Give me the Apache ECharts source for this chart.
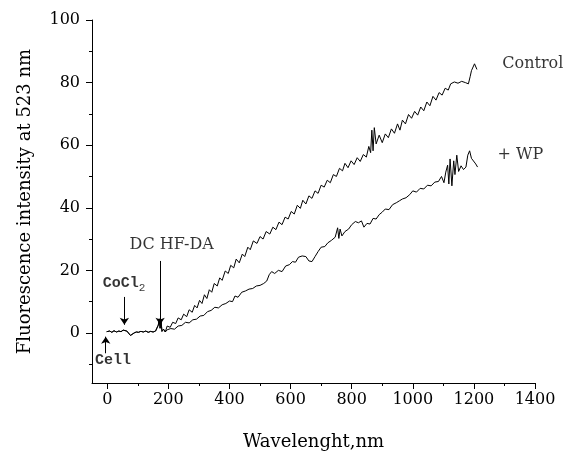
<!DOCTYPE html>
<html lang="en">
<head>
    <meta charset="UTF-8" />
    <title>Fluorescence</title>
    <script src="https://cdn.jsdelivr.net/npm/echarts@6/dist/echarts.min.js"></script>
    <style>
        html, body { margin: 0; padding: 0; background: #fff; }
    </style>
</head>
<body>
    <div style="width: 568px; height: 455px" id="chart"></div>
    <script>
        // 基线 (Cell -> CoCl2 -> DCHF-DA)
        const baseX = [-2, 0, 8, 15, 22, 30, 38, 45, 52, 58, 64, 70, 76, 82, 88, 95, 102, 110, 118, 126, 134, 142, 150, 158, 163, 167, 170, 173, 176, 179, 184, 190];
        const baseY = [0.4, 0.3, 0.6, 0.2, 0.7, 0.3, 0.6, 0.4, 0.9, 1.2, 0.6, 0.3, -0.8, -1.2, 0, 0.3, 0.2, 0.5, 0.3, 0.6, 0.2, 0.5, 0.3, 0.6, 0.2, 2.5, 4.5, 1.5, 3.8, 0.5, 1.2, 0.3];

        // Control
        const controlX = [196, 206, 214, 224, 232, 242, 250, 260, 268, 278, 286, 294, 302, 310, 318, 326, 334, 342, 350, 360, 368, 376, 386, 396, 404, 414, 422, 432, 442, 450, 460, 468, 478, 490, 500, 510, 520, 532, 542, 552, 562, 572, 582, 592, 602, 612, 622, 632, 640, 650, 660, 670, 680, 690, 700, 710, 720, 730, 740, 750, 760, 770, 778, 788, 798, 808, 818, 828, 838, 848, 856, 862, 866, 870, 874, 880, 890, 900, 910, 920, 930, 940, 950, 958, 966, 976, 986, 996, 1006, 1016, 1026, 1036, 1046, 1056, 1066, 1076, 1086, 1096, 1106, 1116, 1124, 1136, 1148, 1160, 1172, 1182, 1188, 1192, 1198, 1202, 1206, 1210];
        const controlY = [2.2, 1.8, 3.4, 3.0, 4.8, 4.2, 6.0, 5.2, 7.4, 6.6, 8.8, 8.0, 10.4, 9.4, 12.2, 11.0, 13.8, 13.0, 15.8, 15.0, 17.6, 16.8, 19.8, 19.0, 21.6, 20.8, 23.6, 22.4, 25.2, 24.4, 27.4, 26.6, 29.4, 28.6, 30.8, 30.0, 32.4, 31.6, 33.8, 33.0, 35.4, 34.6, 37.0, 36.4, 38.8, 38.0, 40.8, 39.8, 42.4, 41.2, 43.8, 43.0, 45.4, 44.6, 47.2, 46.6, 48.8, 48.0, 50.6, 50.0, 52.6, 51.8, 54.2, 52.8, 55.0, 53.8, 56.0, 54.8, 57.0, 56.2, 59.6, 57.6, 64.8, 58.2, 65.6, 60.4, 63.2, 60.8, 63.6, 62.4, 65.2, 63.8, 66.8, 64.8, 68.0, 66.8, 69.8, 68.6, 70.8, 69.6, 72.2, 71.0, 73.8, 72.6, 75.6, 74.4, 76.8, 76.0, 78.2, 77.6, 79.6, 80.2, 79.8, 80.4, 80.0, 79.6, 82.0, 83.8, 84.4, 86.0, 85.4, 84.2];

        // + WP
        const wpX = [196, 208, 220, 232, 244, 256, 268, 280, 292, 304, 316, 328, 340, 352, 364, 376, 388, 400, 410, 418, 428, 440, 452, 464, 476, 488, 500, 512, 522, 530, 538, 548, 560, 572, 584, 596, 606, 616, 626, 638, 650, 660, 670, 680, 690, 700, 712, 722, 734, 746, 754, 758, 762, 768, 778, 790, 800, 812, 822, 832, 840, 850, 860, 870, 880, 890, 900, 910, 922, 934, 946, 956, 966, 978, 990, 1000, 1012, 1024, 1036, 1048, 1060, 1072, 1084, 1094, 1102, 1108, 1114, 1118, 1122, 1128, 1134, 1138, 1144, 1150, 1158, 1166, 1174, 1180, 1186, 1192, 1198, 1206, 1212];
        const wpY = [1.0, 1.4, 1.2, 2.2, 2.4, 3.4, 3.2, 4.2, 4.4, 5.4, 5.6, 6.8, 7.2, 8.2, 8.0, 9.0, 9.4, 10.2, 10.0, 11.8, 11.4, 13.0, 13.4, 14.0, 14.2, 15.0, 15.2, 15.8, 16.6, 18.6, 19.6, 19.0, 20.0, 19.6, 21.4, 21.8, 22.8, 22.6, 24.2, 24.6, 24.4, 23.0, 22.8, 24.4, 26.0, 27.4, 27.6, 28.8, 29.6, 30.6, 33.6, 30.2, 33.2, 31.0, 32.4, 33.2, 34.6, 35.6, 35.2, 35.8, 33.8, 35.0, 34.8, 36.6, 36.4, 37.8, 38.6, 39.6, 39.4, 41.0, 41.6, 42.2, 42.8, 43.2, 44.2, 45.4, 45.0, 46.2, 46.0, 47.2, 47.0, 48.2, 48.4, 50.0, 48.0, 51.4, 53.6, 47.6, 55.6, 47.0, 55.0, 50.6, 56.8, 51.6, 53.4, 52.2, 53.0, 56.8, 58.2, 55.8, 55.6, 54.0, 53.0];

        // 刻度
        const xTicks = [0, 200, 400, 600, 800, 1000, 1200, 1400];
        const xMinorTicks = [100, 300, 500, 700, 900, 1100, 1300];
        const yTicks = [0, 20, 40, 60, 80, 100];
        const yMinorTicks = [-10, 10, 30, 50, 70, 90];

        // 标注文字
        const noteText = ["Control", "+ WP", "DC HF-DA", "{m|CoCl}{s|2}", "{m|Cell}"];
        const noteX = [1393, 1352, 211, 55, 19];
        const noteY = [86, 57, 28.2, 16, -8.7];

        // 箭头 [x, 起点y, 终点y]
        const arrowX = [-5, 56, 173];
        const arrowFrom = [-6.5, 11.5, 23];
        const arrowTo = [-1.2, 2.6, 2.6];

        const zip = (xs, ys) => xs.map((x, i) => [x, ys[i]]);
        const baseData = zip(baseX, baseY);
        const controlData = baseData.concat(zip(controlX, controlY));
        const wpData = baseData.concat(zip(wpX, wpY));
        const noteData = noteText.map((t, i) => [noteX[i], noteY[i], t]);
        const arrowData = arrowX.map((x, i) => [{ coord: [x, arrowFrom[i]] }, { coord: [x, arrowTo[i]] }]);

        const myChart = echarts.init(document.getElementById("chart"));

        const labelFont = { color: "#000", fontFamily: "DejaVu Serif", fontSize: 16, formatter: (v) => String(v) };
        const black = { color: "#000", width: 1 };

        option = {
            animation: false,
            grid: { left: 92, right: 33, top: 20, bottom: 72, outerBoundsMode: "none", containLabel: false },
            xAxis: [
                {
                    type: "value",
                    min: -50,
                    max: 1400,
                    name: "Wavelenght,nm",
                    nameLocation: "middle",
                    nameGap: 50,
                    nameTextStyle: { color: "#000", fontFamily: "DejaVu Serif", fontSize: 18 },
                    axisLine: { show: true, onZero: false, lineStyle: black },
                    axisTick: { show: true, inside: false, length: 6, customValues: xTicks, lineStyle: black },
                    axisLabel: Object.assign({ margin: 9, customValues: xTicks }, labelFont),
                    splitLine: { show: false },
                },
                {
                    type: "value",
                    min: -50,
                    max: 1400,
                    position: "bottom",
                    axisLine: { show: false, onZero: false },
                    axisTick: { show: true, inside: false, length: 3, customValues: xMinorTicks, lineStyle: black },
                    axisLabel: { show: false },
                    splitLine: { show: false },
                },
            ],
            yAxis: [
                {
                    type: "value",
                    min: -16,
                    max: 100,
                    name: "Fluorescence intensity at 523 nm",
                    nameLocation: "middle",
                    nameGap: 58,
                    nameRotate: 90,
                    nameTextStyle: { color: "#000", fontFamily: "DejaVu Serif", fontSize: 18 },
                    axisLine: { show: true, onZero: false, lineStyle: black },
                    axisTick: { show: true, inside: false, length: 6, customValues: yTicks, lineStyle: black },
                    axisLabel: Object.assign({ margin: 12, customValues: yTicks }, labelFont),
                    splitLine: { show: false },
                },
                {
                    type: "value",
                    min: -16,
                    max: 100,
                    position: "left",
                    axisLine: { show: false, onZero: false },
                    axisTick: { show: true, inside: false, length: 3, customValues: yMinorTicks, lineStyle: black },
                    axisLabel: { show: false },
                    splitLine: { show: false },
                },
            ],
            series: [
                {
                    name: "Control",
                    type: "line",
                    data: controlData,
                    symbol: "none",
                    lineStyle: { color: "#000", width: 1 },
                },
                {
                    name: "+ WP",
                    type: "line",
                    data: wpData,
                    symbol: "none",
                    lineStyle: { color: "#000", width: 1 },
                },
                {
                    name: "notes",
                    type: "scatter",
                    data: noteData,
                    symbolSize: 0,
                    silent: true,
                    label: {
                        show: true,
                        position: "inside",
                        color: "#000",
                        fontFamily: "DejaVu Serif",
                        fontSize: 16,
                        formatter: (p) => p.data[2],
                        rich: {
                            m: { fontFamily: "Liberation Mono", fontSize: 15, fontWeight: "bold", color: "#000" },
                            s: { fontFamily: "Liberation Mono", fontSize: 11, color: "#000", padding: [10, 0, 0, 0] },
                        },
                    },
                    markLine: {
                        silent: true,
                        symbol: ["none", "arrow"],
                        symbolSize: 7,
                        label: { show: false },
                        lineStyle: { color: "#000", width: 1, type: "solid" },
                        data: arrowData,
                    },
                },
            ],
        };

        myChart.setOption(option);
    </script>
</body>
</html>
